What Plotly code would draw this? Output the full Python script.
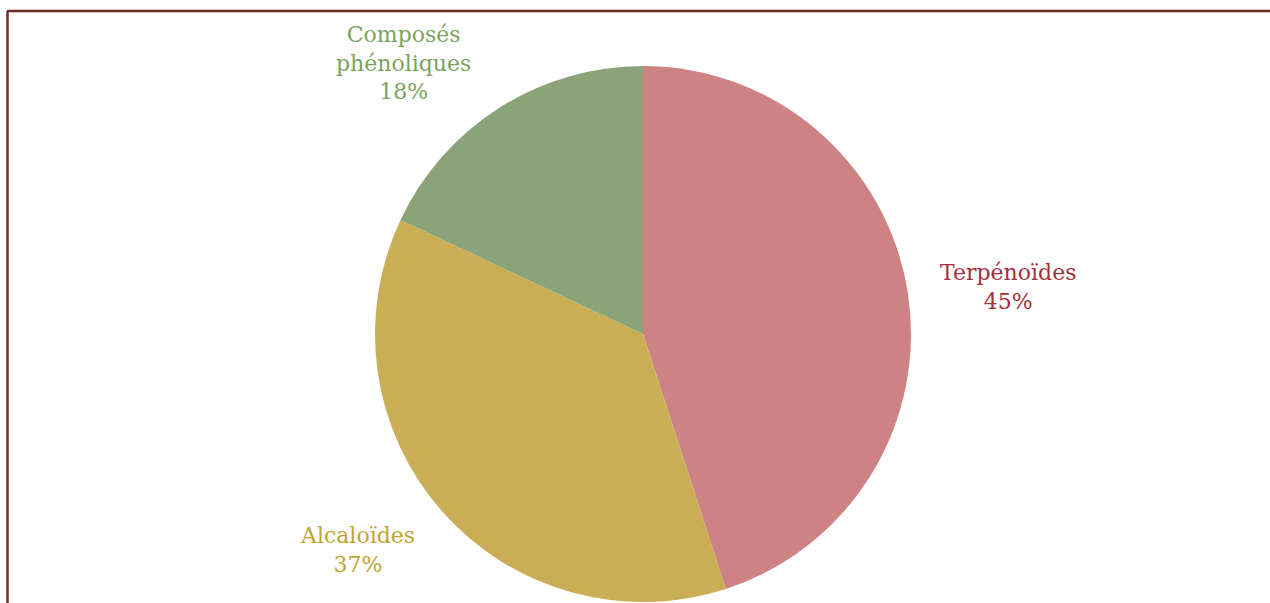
import plotly.graph_objects as go

labels = ["Terpénoïdes", "Alcaloïdes", "Composés<br>phénoliques"]
values = [45, 37, 18]
slice_colors = ["#cd8283", "#c9ae55", "#8aa378"]
text_colors = ["#a3303c", "#c2a431", "#79a35c"]
# label anchor positions (paper coords)
label_x = [1008 / 1270, 357 / 1270, 403 / 1270]
label_y = [1 - 287 / 603, 1 - 550 / 603, 1 - 63 / 603]

W, H = 1270, 603
cx, cy, r = 643, 334, 268

fig = go.Figure(go.Pie(
    labels=labels,
    values=values,
    sort=False,
    direction="clockwise",
    rotation=0,
    textinfo="none",
    hoverinfo="label+percent",
    marker=dict(colors=slice_colors, line=dict(width=0)),
    domain=dict(x=[(cx - r) / W, (cx + r) / W], y=[max(0, 1 - (cy + r) / H), 1 - (cy - r) / H]),
    showlegend=False,
))

for lab, v, c, x, y in zip(labels, values, text_colors, label_x, label_y):
    fig.add_annotation(
        x=x, y=y, xref="paper", yref="paper", showarrow=False,
        text=f"{lab}<br>{v}%", align="center",
        font=dict(family="DejaVu Serif", size=22, color=c),
        xanchor="center", yanchor="middle",
    )

# frame
fig.add_shape(type="line", xref="paper", yref="paper",
              x0=7 / W, x1=1.01, y0=1 - 11 / H, y1=1 - 11 / H,
              line=dict(color="#6e2b2b", width=2.5))
fig.add_shape(type="line", xref="paper", yref="paper",
              x0=7.5 / W, x1=7.5 / W, y0=-0.01, y1=1 - 11 / H,
              line=dict(color="#6e2b2b", width=2.5))

fig.update_layout(
    width=W, height=H,
    margin=dict(l=0, r=0, t=0, b=0),
    paper_bgcolor="white", plot_bgcolor="white",
)

fig.write_html("out.html", config={"displayModeBar": False},
               post_script="document.body.style.margin='0';document.body.style.overflow='hidden';")
